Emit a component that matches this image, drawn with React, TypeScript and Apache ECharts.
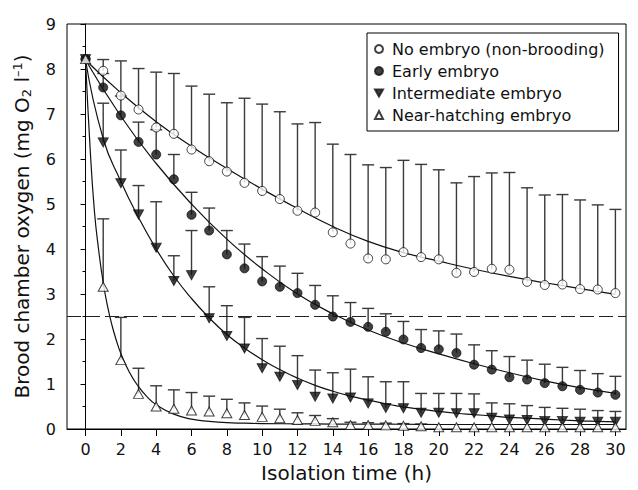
import React, { useEffect, useRef } from "react";
import * as echarts from "echarts";

// ---------- data ----------
const HOURS = [0, 1, 2, 3, 4, 5, 6, 7, 8, 9, 10, 11, 12, 13, 14, 15, 16, 17, 18, 19, 20, 21, 22, 23, 24, 25, 26, 27, 28, 29, 30];
const X_TICKS = [0, 2, 4, 6, 8, 10, 12, 14, 16, 18, 20, 22, 24, 26, 28, 30];

const NAMES = ["No embryo (non-brooding)", "Early embryo", "Intermediate embryo", "Near-hatching embryo"];

const noEmbryo = [8.22, 7.96, 7.41, 7.10, 6.70, 6.56, 6.21, 5.95, 5.72, 5.47, 5.29, 5.11, 4.85, 4.81, 4.37, 4.12, 3.79, 3.77, 3.93, 3.82, 3.77, 3.47, 3.49, 3.56, 3.54, 3.27, 3.20, 3.21, 3.11, 3.10, 3.02];
const noEmbryoUpper = [null, 8.21, 8.18, 8.01, 7.93, 7.90, 7.62, 7.44, 7.25, 7.35, 7.22, 7.05, 6.78, 6.81, 6.33, 6.10, 5.87, 5.81, 5.97, 5.88, 5.76, 5.47, 5.61, 5.69, 5.70, 5.36, 5.20, 5.21, 5.09, 4.98, 4.88];

const early = [8.22, 7.59, 6.97, 6.38, 6.10, 5.55, 4.76, 4.41, 3.88, 3.57, 3.28, 3.16, 3.02, 2.76, 2.50, 2.38, 2.27, 2.16, 1.99, 1.80, 1.77, 1.69, 1.43, 1.32, 1.15, 1.10, 1.02, 0.95, 0.87, 0.81, 0.76];
const earlyUpper = [null, 7.90, 7.40, 6.82, 6.65, 6.10, 5.26, 4.91, 4.41, 4.11, 3.83, 3.62, 3.46, 3.19, 2.96, 2.81, 2.68, 2.56, 2.39, 2.21, 2.18, 2.11, 1.87, 1.74, 1.61, 1.53, 1.44, 1.37, 1.30, 1.23, 1.17];

const intermediate = [8.22, 6.37, 5.46, 4.77, 4.03, 3.29, 3.42, 2.46, 2.07, 1.79, 1.35, 1.16, 0.98, 0.72, 0.68, 0.70, 0.57, 0.47, 0.46, 0.36, 0.36, 0.35, 0.35, 0.25, 0.21, 0.20, 0.18, 0.18, 0.16, 0.16, 0.16];
const intermediateUpper = [null, 7.24, 6.20, 5.41, 5.05, 3.85, 4.41, 3.16, 2.74, 2.48, 2.01, 1.84, 1.63, 1.31, 1.25, 1.33, 1.16, 1.05, 1.05, 0.79, 0.79, 0.79, 0.78, 0.58, 0.56, 0.52, 0.48, 0.46, 0.44, 0.41, 0.39];

const nearHatching = [8.22, 3.16, 1.53, 0.78, 0.50, 0.45, 0.41, 0.39, 0.35, 0.31, 0.27, 0.24, 0.20, 0.18, 0.15, 0.09, 0.09, 0.08, 0.07, 0.06, 0.04, 0.04, 0.04, 0.04, 0.04, 0.04, 0.04, 0.04, 0.04, 0.04, 0.04];
const nearHatchingUpper = [null, 4.67, 2.48, 1.35, 0.96, 0.87, 0.81, 0.73, 0.66, 0.58, 0.51, 0.44, 0.36, 0.30, 0.23, 0.15, 0.14, 0.13, 0.12, 0.11, null, null, null, null, null, null, null, null, null, null, null];

// fitted curves
const fitNoEmbryoX = [0, 2, 4, 6, 8, 10, 12, 14, 16, 18, 20, 22, 24, 26, 28, 30];
const fitNoEmbryoY = [8.2, 7.47, 6.83, 6.28, 5.79, 5.33, 4.9, 4.5, 4.17, 3.92, 3.73, 3.55, 3.39, 3.25, 3.12, 2.99];
const fitEarlyX = [0, 2, 4, 6, 8, 10, 12, 14, 16, 18, 20, 22, 24, 26, 28, 30];
const fitEarlyY = [8.2, 6.95, 5.9, 5.0, 4.22, 3.56, 3.0, 2.56, 2.2, 1.91, 1.67, 1.45, 1.25, 1.07, 0.92, 0.79];
const fitInterX = [0, 1, 2, 3, 4, 5, 6, 7, 8, 9, 10, 11, 12, 13, 14, 15, 16, 17, 18, 19, 20, 21, 22, 23, 24, 25, 26, 27, 28, 29, 30];
const fitInterY = [8.2, 6.45, 5.5, 4.7, 4.0, 3.4, 2.9, 2.47, 2.1, 1.8, 1.54, 1.32, 1.13, 0.97, 0.84, 0.73, 0.64, 0.56, 0.49, 0.44, 0.39, 0.35, 0.32, 0.29, 0.26, 0.24, 0.22, 0.2, 0.18, 0.17, 0.16];
const fitNearX = [0, 0.25, 0.5, 0.75, 1, 1.25, 1.5, 1.75, 2, 2.5, 3, 3.5, 4, 5, 6, 7, 8, 9, 10, 12, 14, 16, 18, 20, 22, 24, 26, 28, 30];
const fitNearY = [8.2, 6.3, 4.85, 3.95, 3.25, 2.72, 2.3, 1.96, 1.68, 1.25, 0.94, 0.71, 0.54, 0.33, 0.22, 0.17, 0.14, 0.13, 0.12, 0.115, 0.11, 0.11, 0.105, 0.1, 0.1, 0.1, 0.1, 0.1, 0.1];

const THRESHOLD = 2.5;

// ---------- styling ----------
const FONT = "DejaVu Sans";
const INK = "#111";
const DOWN_TRI = "path://M0,0 L10,0 L5,8.7 Z";

const pairs = (xs: number[], ys: (number | null)[]) => xs.map((x, i) => [x, ys[i]]);
const errData = (vals: number[], upper: (number | null)[]) =>
  HOURS.map((h, i) => (upper[i] == null ? null : [h, vals[i], upper[i]])).filter((d) => d !== null);

function errorSeries(name: string, vals: number[], upper: (number | null)[]) {
  return {
    name,
    type: "custom",
    z: 1,
    silent: true,
    data: errData(vals, upper),
    encode: { x: 0, y: [1, 2] },
    renderItem: (params: any, api: any) => {
      const x = api.value(0);
      const p0 = api.coord([x, api.value(1)]);
      const p1 = api.coord([x, api.value(2)]);
      const st = { stroke: "#3a3a3a", lineWidth: 1.4 };
      return {
        type: "group",
        children: [
          { type: "line", shape: { x1: p0[0], y1: p0[1], x2: p1[0], y2: p1[1] }, style: st },
          { type: "line", shape: { x1: p1[0] - 6, y1: p1[1], x2: p1[0] + 6, y2: p1[1] }, style: st },
        ],
      };
    },
  };
}

function fitSeries(name: string, xs: number[], ys: number[], extra: any = {}) {
  return {
    name,
    type: "line",
    z: 2,
    silent: true,
    symbol: "none",
    showSymbol: false,
    smooth: 0.5,
    lineStyle: { color: INK, width: 1.2 },
    data: pairs(xs, ys),
    ...extra,
  };
}

function markerSeries(name: string, vals: number[], symbol: string, size: any, filled: boolean) {
  return {
    name,
    type: "scatter",
    z: 5,
    symbol,
    symbolSize: size,
    itemStyle: { color: filled ? INK : "#fff", borderColor: INK, borderWidth: 1 },
    data: pairs(HOURS, vals),
  };
}

export default function App() {
  const ref = useRef<HTMLDivElement>(null);
  useEffect(() => {
    if (!ref.current) return;
    const chart = echarts.init(ref.current, null, { renderer: "svg" });
    const option: any = {
      animation: false,
      backgroundColor: "#fff",
      textStyle: { fontFamily: FONT },
      grid: { left: 67, right: 12, top: 24, bottom: 61, show: true, borderColor: "#000", borderWidth: 1 },
      legend: {
        orient: "vertical",
        left: 367,
        top: 33,
        selectedMode: false,
        data: NAMES,
        itemWidth: 8,
        itemHeight: 8,
        itemGap: 6,
        padding: [8, 14, 8, 7],
        borderColor: "#000",
        borderWidth: 1,
        backgroundColor: "#fff",
        textStyle: { fontFamily: FONT, fontSize: 16, color: INK, padding: [0, 0, 0, 4] },
      },
      xAxis: {
        type: "value",
        min: -1.05,
        max: 30.6,
        name: "Isolation time (h)",
        nameLocation: "middle",
        nameGap: 34,
        nameTextStyle: { fontFamily: FONT, fontSize: 20, color: INK },
        axisLine: { show: true, onZero: false, lineStyle: { color: "#000", width: 1 } },
        axisTick: { show: true, length: 7, inside: false, customValues: X_TICKS, lineStyle: { color: "#000" } },
        axisLabel: { customValues: X_TICKS, fontFamily: FONT, fontSize: 16, color: INK, margin: 12 },
        splitLine: { show: false },
      },
      yAxis: {
        type: "value",
        min: 0,
        max: 9,
        interval: 1,
        name: "Brood chamber oxygen (mg O{sub|2} l{sup|–1})",
        nameLocation: "middle",
        nameGap: 34,
        nameTextStyle: {
          fontFamily: FONT,
          fontSize: 20,
          color: INK,
          rich: {
            sub: { fontFamily: FONT, fontSize: 13, color: INK, padding: [9, 0, 0, 0] },
            sup: { fontFamily: FONT, fontSize: 13, color: INK, padding: [0, 0, 9, 0] },
          },
        },
        axisLine: { show: true, lineStyle: { color: "#000", width: 1 } },
        axisTick: { show: true, length: 5, lineStyle: { color: "#000" } },
        minorTick: { show: true, splitNumber: 2, length: 3, lineStyle: { color: "#000" } },
        axisLabel: { fontFamily: FONT, fontSize: 16, color: INK, margin: 11 },
        splitLine: { show: false },
      },
      series: [
        errorSeries("errNoEmbryo", noEmbryo, noEmbryoUpper),
        errorSeries("errEarly", early, earlyUpper),
        errorSeries("errInter", intermediate, intermediateUpper),
        errorSeries("errNear", nearHatching, nearHatchingUpper),
        fitSeries("fitNoEmbryo", fitNoEmbryoX, fitNoEmbryoY, {
          markLine: {
            silent: true,
            symbol: ["none", "none"],
            label: { show: false },
            lineStyle: { type: [14, 5], color: "#222", width: 1 },
            data: [{ yAxis: THRESHOLD }],
          },
        }),
        fitSeries("fitEarly", fitEarlyX, fitEarlyY),
        fitSeries("fitInter", fitInterX, fitInterY),
        fitSeries("fitNear", fitNearX, fitNearY),
        markerSeries(NAMES[0], noEmbryo, "circle", 9, false),
        markerSeries(NAMES[1], early, "circle", 9, true),
        markerSeries(NAMES[2], intermediate, DOWN_TRI, [10, 9], true),
        markerSeries(NAMES[3], nearHatching, "triangle", [10, 9], false),
      ],
    };
    chart.setOption(option);
    return () => chart.dispose();
  }, []);
  return (
    <div
      ref={ref}
      style={{ position: "fixed", left: 0, top: 0, width: 638, height: 490, background: "#fff" }}
    />
  );
}
